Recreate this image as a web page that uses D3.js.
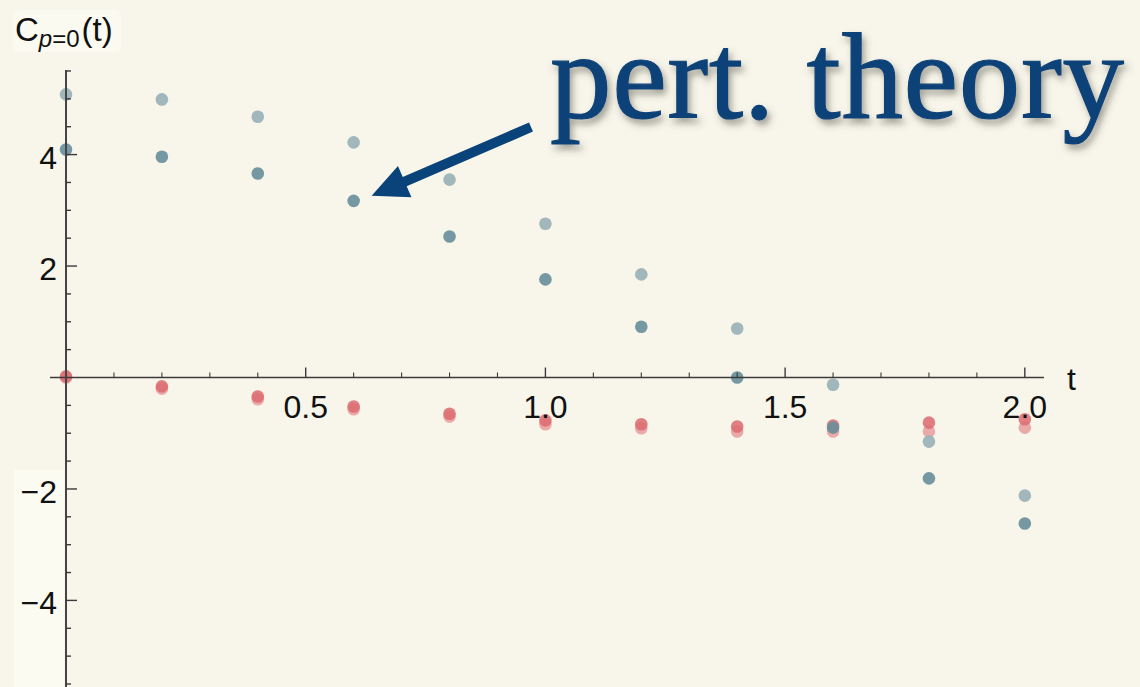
<!DOCTYPE html>
<html>
<head>
<meta charset="utf-8">
<script src="https://cdn.jsdelivr.net/npm/d3@7"></script>
<style>
  html, body { margin: 0; padding: 0; background: #f8f6ea; }
  svg { display: block; }
</style>
</head>
<body>
<svg id="chart" width="1140" height="687"></svg>
<script>
// Correlator C_{p=0}(t): perturbation theory (blue) vs. exact (red)
const times = [0, 0.2, 0.4, 0.6, 0.8, 1.0, 1.2, 1.4, 1.6, 1.8, 2.0];
const pertHigher = [5.08, 4.99, 4.68, 4.22, 3.55, 2.76, 1.85, 0.88, -0.13, -1.15, -2.12];
const pertLower  = [4.09, 3.96, 3.66, 3.17, 2.53, 1.76, 0.91, 0.00, -0.90, -1.81, -2.62];
const exactA     = [0.02, -0.16, -0.34, -0.52, -0.65, -0.77, -0.84, -0.88, -0.86, -0.81, -0.75];
const exactB     = [0.00, -0.20, -0.39, -0.57, -0.70, -0.84, -0.91, -0.97, -0.97, -0.97, -0.90];
const xTickLabels = [0.5, 1.0, 1.5, 2.0];
const yTickLabels = [-4, -2, 2, 4];

const W = 1140, H = 687;
const svg = d3.select("#chart");
const font = "'Liberation Sans', Arial, Helvetica, sans-serif";

svg.append("rect").attr("width", W).attr("height", H).attr("fill", "#f8f6ea");

const x = d3.scaleLinear().domain([-0.0334, 2.04]).range([50, 1044]);
const y = d3.scaleLinear().domain([-5.5, 5.5]).range([684, 71]);

// soft lighter panels behind the labels
svg.append("rect").attr("x", 14).attr("y", 470).attr("width", 50).attr("height", 217).attr("fill", "#fcfbf2");
svg.append("rect").attr("x", 13).attr("y", 10).attr("width", 108).attr("height", 42).attr("rx", 6).attr("fill", "#fbfaf0");

const defs = svg.append("defs");
const shadow = defs.append("filter").attr("id", "textShadow")
  .attr("x", "-10%").attr("y", "-20%").attr("width", "130%").attr("height", "160%");
shadow.append("feDropShadow").attr("dx", 3).attr("dy", 5).attr("stdDeviation", 3.5)
  .attr("flood-color", "#4a4a40").attr("flood-opacity", 0.5);

// ---- points ----
const pts = svg.append("g");
function drawSeries(vals, color, opacity) {
  pts.selectAll(null).data(times.map((t, i) => [t, vals[i]])).enter()
    .append("circle")
    .attr("cx", d => x(d[0])).attr("cy", d => y(d[1])).attr("r", 6.3)
    .attr("fill", color).attr("fill-opacity", opacity);
}
drawSeries(exactB, "#e89c9c", 0.85);
drawSeries(exactA, "#dc6a70", 0.85);
drawSeries(pertHigher, "#9cb3b8", 0.95);
drawSeries(pertLower, "#6a8f9b", 0.92);

// ---- axes ----
const axisColor = "#3a3a3a";
const isHalf = d => Math.abs(d * 2 - Math.round(d * 2)) < 1e-9;
const gx = svg.append("g");
gx.append("line").attr("x1", x.range()[0]).attr("x2", x.range()[1])
  .attr("y1", y(0)).attr("y2", y(0)).attr("stroke", axisColor).attr("stroke-width", 1.6);
const xMinor = d3.range(1, 21).map(i => i / 10);
gx.selectAll(null).data(xMinor).enter().append("line")
  .attr("x1", d => x(d)).attr("x2", d => x(d))
  .attr("y1", y(0)).attr("y2", d => y(0) - (isHalf(d) ? 10 : 5))
  .attr("stroke", axisColor).attr("stroke-width", d => (isHalf(d) ? 1.4 : 1.1));
gx.selectAll(null).data(xTickLabels).enter().append("text")
  .attr("x", d => x(d)).attr("y", y(0) + 40)
  .attr("text-anchor", "middle").attr("font-family", font).attr("font-size", 32).attr("fill", "#111")
  .text(d => d3.format(".1f")(d));
svg.append("text").attr("x", 1067).attr("y", 390)
  .attr("font-family", font).attr("font-size", 32).attr("fill", "#111").text("t");

const gy = svg.append("g");
gy.append("line").attr("x1", x(0)).attr("x2", x(0))
  .attr("y1", y.range()[1] - 1).attr("y2", H).attr("stroke", "#444").attr("stroke-width", 2);
const yMinor = d3.range(-11, 12).map(i => i / 2).filter(v => v !== 0);
gy.selectAll(null).data(yMinor).enter().append("line")
  .attr("x1", x(0)).attr("x2", d => x(0) + (d % 2 === 0 ? 11 : 5))
  .attr("y1", d => y(d)).attr("y2", d => y(d))
  .attr("stroke", axisColor).attr("stroke-width", 1.4);
gy.selectAll(null).data(yTickLabels).enter().append("text")
  .attr("x", 57).attr("y", d => y(d) + 14)
  .attr("text-anchor", "end").attr("font-family", font).attr("font-size", 32).attr("fill", "#111")
  .text(d => d < 0 ? "\u2212" + Math.abs(d) : String(d));

// y axis label C_{p=0}(t)
const yl = svg.append("text").attr("x", 15).attr("y", 41)
  .attr("font-family", font).attr("font-size", 33).attr("fill", "#111");
yl.append("tspan").text("C");
yl.append("tspan").attr("dy", 6).attr("font-size", 24).attr("font-style", "italic").text("p");
yl.append("tspan").attr("font-size", 24).text("=0");
yl.append("tspan").attr("dy", -6).attr("dx", 2).text("(t)");

// ---- annotation ----
const annColor = "#0a4379";
svg.append("text").attr("x", 550).attr("y", 118)
  .attr("font-family", "'Liberation Serif', 'Times New Roman', serif").attr("font-size", 123)
  .attr("textLength", 574).attr("lengthAdjust", "spacing")
  .attr("fill", annColor).attr("stroke", annColor).attr("stroke-width", 1.2)
  .attr("filter", "url(#textShadow)")
  .text("pert. theory");

// arrow pointing at the lower blue point at t = 0.6
const tip = [x(0.6) + 18, y(pertLower[3]) - 5];
const tail = [531, 127];
const dx = tail[0] - tip[0], dy = tail[1] - tip[1];
const len = Math.hypot(dx, dy);
const ux = dx / len, uy = dy / len, nx = -uy, ny = ux;
const headLen = 36, headHalf = 17, shaftHalf = 5;
const b = [tip[0] + ux * headLen, tip[1] + uy * headLen];
const arrowPts = [
  tip,
  [b[0] + nx * headHalf, b[1] + ny * headHalf],
  [b[0] + nx * shaftHalf, b[1] + ny * shaftHalf],
  [tail[0] + nx * shaftHalf, tail[1] + ny * shaftHalf],
  [tail[0] - nx * shaftHalf, tail[1] - ny * shaftHalf],
  [b[0] - nx * shaftHalf, b[1] - ny * shaftHalf],
  [b[0] - nx * headHalf, b[1] - ny * headHalf]
];
svg.append("path").attr("d", d3.line()(arrowPts) + "Z").attr("fill", annColor);
</script>
</body>
</html>
